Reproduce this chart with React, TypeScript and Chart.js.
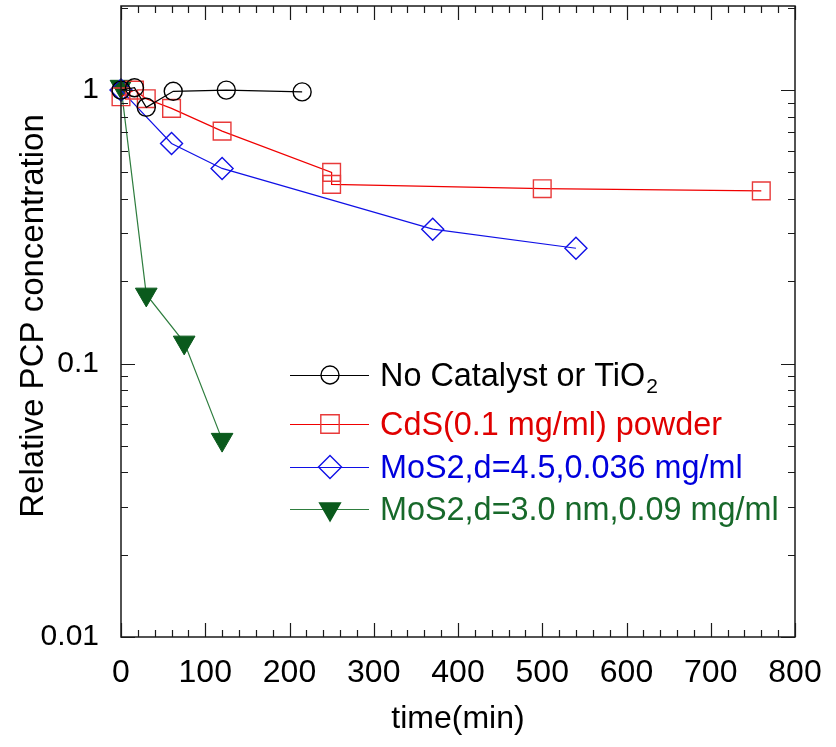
import React, { useEffect, useRef } from 'react';
import { Chart, registerables } from 'chart.js';

Chart.register(...registerables);

// ---- data ----
const timeNoCat = [0, 16, 30, 62, 125, 215];
const relNoCat = [1.0, 1.02, 0.865, 0.99, 1.0, 0.985];

const timeCdS = [0, 16, 30, 60, 120, 250, 250, 500, 760];
const relCdS = [0.945, 1.0, 0.93, 0.857, 0.708, 0.5, 0.452, 0.436, 0.428];

const timeMoS2a = [0, 60, 120, 370, 540];
const relMoS2a = [1.0, 0.638, 0.517, 0.31, 0.264];

const timeMoS2b = [0, 30, 75, 120];
const relMoS2b = [1.03, 0.179, 0.1195, 0.0527];

const seriesLabels = [
  'No Catalyst or TiO2',
  'CdS(0.1 mg/ml) powder',
  'MoS2,d=4.5,0.036 mg/ml',
  'MoS2,d=3.0 nm,0.09 mg/ml',
];
const yLabelValues = [0.01, 0.1, 1];
const xAxisTitle = 'time(min)';
const yAxisTitle = 'Relative PCP concentration';

const FONT = '"Liberation Sans", Arial, Helvetica, sans-serif';

const zip = (xs: number[], ys: number[]) => xs.map((x, i) => ({ x, y: ys[i] }));

type Marker = 'circle' | 'rect' | 'rectRot' | 'triangleDown';

function drawMarker(
  ctx: CanvasRenderingContext2D,
  kind: Marker,
  x: number,
  y: number,
  r: number,
  stroke: string,
  fill: string | null,
  lw: number
) {
  ctx.save();
  ctx.beginPath();
  if (kind === 'circle') {
    ctx.arc(x, y, r, 0, Math.PI * 2);
  } else if (kind === 'rect') {
    const s = r * Math.SQRT1_2;
    ctx.rect(x - s, y - s, 2 * s, 2 * s);
  } else if (kind === 'rectRot') {
    ctx.moveTo(x - r, y);
    ctx.lineTo(x, y - r);
    ctx.lineTo(x + r, y);
    ctx.lineTo(x, y + r);
    ctx.closePath();
  } else {
    const w = Math.sin(Math.PI / 3) * r;
    ctx.moveTo(x, y + r);
    ctx.lineTo(x - w, y - r / 2);
    ctx.lineTo(x + w, y - r / 2);
    ctx.closePath();
  }
  if (fill) {
    ctx.fillStyle = fill;
    ctx.fill();
  }
  ctx.strokeStyle = stroke;
  ctx.lineWidth = lw;
  ctx.stroke();
  ctx.restore();
}

const framePlugin = {
  id: 'frameAndLegend',
  afterDraw(chart: any) {
    const { ctx, chartArea: a } = chart;
    const xs = chart.scales.x;
    const ys = chart.scales.y;
    ctx.save();
    // frame
    ctx.strokeStyle = '#1a1a1a';
    ctx.lineWidth = 1.5;
    ctx.strokeRect(a.left, a.top, a.right - a.left, a.bottom - a.top);
    // ticks
    ctx.lineWidth = 1.2;
    ctx.beginPath();
    for (let t = 0; t <= 800; t += 20) {
      const px = Math.round(xs.getPixelForValue(t)) + 0.5;
      const len = t % 100 === 0 ? 14 : 7;
      ctx.moveTo(px, a.bottom);
      ctx.lineTo(px, a.bottom - len);
      ctx.moveTo(px, a.top);
      ctx.lineTo(px, a.top + len);
    }
    for (let e = -2; e <= 0; e++) {
      for (let m = 1; m <= 9; m++) {
        const v = m * Math.pow(10, e);
        if (v > ys.max) break;
        const py = Math.round(ys.getPixelForValue(v)) + 0.5;
        const len = m === 1 ? 14 : 7;
        ctx.moveTo(a.left, py);
        ctx.lineTo(a.left + len, py);
        ctx.moveTo(a.right, py);
        ctx.lineTo(a.right - len, py);
      }
    }
    ctx.stroke();

    // axis titles
    ctx.fillStyle = '#000';
    ctx.textAlign = 'center';
    ctx.textBaseline = 'alphabetic';
    ctx.font = `32px ${FONT}`;
    ctx.fillText(xAxisTitle, (a.left + a.right) / 2, 728);
    ctx.save();
    ctx.font = `33px ${FONT}`;
    ctx.translate(43, 316);
    ctx.rotate(-Math.PI / 2);
    ctx.fillText(yAxisTitle, 0, 0);
    ctx.restore();

    // legend
    const ds = chart.data.datasets;
    const rowsY = [375, 424, 467, 509];
    const textColors = ['#000000', '#e00000', '#0000dd', '#17692a'];
    ctx.textAlign = 'left';
    rowsY.forEach((yy: number, i: number) => {
      const d = ds[i];
      ctx.strokeStyle = d.borderColor;
      ctx.lineWidth = 1.2;
      ctx.beginPath();
      ctx.moveTo(290, yy + 0.5);
      ctx.lineTo(369, yy + 0.5);
      ctx.stroke();
      drawMarker(ctx, d._marker, 330, yy, d._legendR, d.pointBorderColor, d._fill, 1.4);
      ctx.fillStyle = textColors[i];
      ctx.font = `32.4px ${FONT}`;
      const label: string = d.label;
      if (label.endsWith('TiO2')) {
        const main = label.slice(0, -1);
        ctx.fillText(main, 380, yy + 11);
        const w = ctx.measureText(main).width;
        ctx.font = `21px ${FONT}`;
        ctx.fillText('2', 380 + w + 1, yy + 18);
      } else {
        ctx.fillText(label, 380, yy + 11);
      }
    });
    ctx.restore();
  },
};

export default function App() {
  const ref = useRef<HTMLCanvasElement | null>(null);

  useEffect(() => {
    if (!ref.current) return;
    const isDecade = (v: number) => {
      const l = Math.log10(v);
      return Math.abs(l - Math.round(l)) < 1e-6;
    };
    const chart = new Chart(ref.current, {
      type: 'line',
      data: {
        datasets: [
          {
            label: seriesLabels[0],
            data: zip(timeNoCat, relNoCat),
            borderColor: '#000000',
            borderWidth: 1.2,
            pointStyle: 'circle',
            pointRadius: 9,
            pointBorderWidth: 1.4,
            pointBorderColor: '#000000',
            pointBackgroundColor: 'rgba(0,0,0,0)',
            clip: false,
            _marker: 'circle',
            _legendR: 9,
            _fill: null,
          } as any,
          {
            label: seriesLabels[1],
            data: zip(timeCdS, relCdS),
            borderColor: '#f00000',
            borderWidth: 1.2,
            pointStyle: 'rect',
            pointRadius: 12.5,
            pointBorderWidth: 1.4,
            pointBorderColor: '#e83a3a',
            pointBackgroundColor: 'rgba(0,0,0,0)',
            clip: false,
            _marker: 'rect',
            _legendR: 13,
            _fill: null,
          } as any,
          {
            label: seriesLabels[2],
            data: zip(timeMoS2a, relMoS2a),
            borderColor: '#1010e6',
            borderWidth: 1.2,
            pointStyle: 'rectRot',
            pointRadius: 11,
            pointBorderWidth: 1.4,
            pointBorderColor: '#1010e6',
            pointBackgroundColor: 'rgba(0,0,0,0)',
            clip: false,
            _marker: 'rectRot',
            _legendR: 11.5,
            _fill: null,
          } as any,
          {
            label: seriesLabels[3],
            data: zip(timeMoS2b, relMoS2b),
            borderColor: '#2e7d3e',
            borderWidth: 1.2,
            pointStyle: 'triangle',
            pointRotation: 180,
            pointRadius: 12.5,
            pointBorderWidth: 1,
            pointBorderColor: '#0a5a1c',
            pointBackgroundColor: '#0a5a1c',
            clip: false,
            _marker: 'triangleDown',
            _legendR: 12,
            _fill: '#0a5a1c',
          } as any,
        ],
      },
      options: {
        responsive: false,
        animation: false,
        events: [],
        layout: { autoPadding: false, padding: { left: 0, top: 6, right: 41, bottom: 0 } },
        plugins: {
          legend: { display: false },
          tooltip: { enabled: false },
          title: { display: false },
        },
        elements: { line: { tension: 0 } },
        scales: {
          x: {
            type: 'linear',
            min: 0,
            max: 800,
            grid: { display: false },
            border: { display: false },
            ticks: {
              stepSize: 100,
              color: '#000',
              font: { family: FONT, size: 32, lineHeight: 1 },
              padding: 12,
              maxRotation: 0,
              autoSkip: false,
            },
            afterFit: (s: any) => {
              s.height = 110;
              s.paddingLeft = 0;
              s.paddingRight = 0;
            },
          },
          y: {
            type: 'logarithmic',
            min: 0.01,
            max: 2.03,
            grid: { display: false },
            border: { display: false },
            ticks: {
              color: '#000',
              font: { family: FONT, size: 30, lineHeight: 0.05 },
              padding: 14,
              autoSkip: false,
              callback: (v: any) => {
                const n = Number(v);
                if (!isDecade(n)) return '';
                const hit = yLabelValues.find((t) => Math.abs(t - n) / t < 1e-6);
                return hit === undefined ? '' : String(hit);
              },
            },
            afterFit: (s: any) => {
              s.width = 121;
              s.paddingTop = 0;
              s.paddingBottom = 0;
            },
          },
        },
      } as any,
      plugins: [framePlugin],
    });
    return () => chart.destroy();
  }, []);

  return (
    <div style={{ position: 'fixed', left: 0, top: 0, width: 836, height: 747, background: '#fff' }}>
      <canvas ref={ref} width={836} height={747} style={{ display: 'block' }} />
    </div>
  );
}
